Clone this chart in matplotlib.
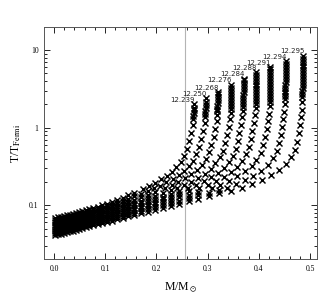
import matplotlib
matplotlib.use("Agg")
from matplotlib import pyplot, ticker

# mass grid shared by the low-mass part of every sequence
mass_grid = [0.001, 0.007, 0.013, 0.019, 0.025, 0.031, 0.037, 0.043, 0.049, 0.055,
             0.062, 0.069, 0.077, 0.085, 0.094, 0.103, 0.113, 0.123, 0.134, 0.145,
             0.157, 0.170, 0.183, 0.197, 0.212, 0.228, 0.245, 0.263, 0.282, 0.302,
             0.323, 0.345]

# T/T_Fermi on the mass grid (low-mass part), one list per sequence
low_T = [
    [.0683, .0696, .0710, .0724, .0740, .0756, .0774, .0793, .0812, .0833, .0859, .0887,
     .0921, .0958, .1003, .1052, .1112, .1178, .1259, .1349, .1459],
    [.0641, .0654, .0667, .0681, .0695, .0711, .0727, .0744, .0762, .0781, .0804, .0829,
     .0859, .0891, .0930, .0972, .1022, .1077, .1143, .1216, .1304, .1410, .1530],
    [.0602, .0614, .0627, .0640, .0654, .0668, .0683, .0699, .0716, .0733, .0754, .0776,
     .0803, .0831, .0865, .0901, .0945, .0991, .1047, .1107, .1179, .1265, .1360, .1475],
    [.0565, .0577, .0589, .0602, .0615, .0628, .0642, .0657, .0672, .0688, .0707, .0727,
     .0751, .0777, .0807, .0839, .0876, .0917, .0964, .1016, .1076, .1147, .1225, .1317,
     .1426, .1556],
    [.0530, .0542, .0554, .0566, .0578, .0591, .0605, .0618, .0633, .0648, .0666, .0684,
     .0707, .0730, .0758, .0787, .0821, .0857, .0899, .0944, .0997, .1059, .1125, .1203,
     .1295, .1403, .1530],
    [.0498, .0509, .0520, .0532, .0544, .0557, .0569, .0583, .0596, .0610, .0627, .0645,
     .0665, .0687, .0713, .0739, .0771, .0804, .0842, .0882, .0929, .0984, .1042, .1110,
     .1189, .1280, .1388, .1512],
    [.0467, .0478, .0489, .0500, .0512, .0524, .0536, .0548, .0561, .0574, .0590, .0607,
     .0626, .0647, .0670, .0695, .0724, .0754, .0788, .0825, .0867, .0916, .0967, .1027,
     .1095, .1174, .1265, .1370, .1492],
    [.0439, .0449, .0459, .0470, .0481, .0492, .0504, .0515, .0527, .0540, .0555, .0570,
     .0588, .0607, .0628, .0651, .0677, .0704, .0736, .0769, .0806, .0849, .0895, .0947,
     .1006, .1073, .1151, .1239, .1340, .1456, .1590],
    [.0412, .0421, .0431, .0441, .0452, .0462, .0473, .0484, .0495, .0507, .0521, .0535,
     .0552, .0569, .0589, .0610, .0634, .0658, .0687, .0717, .0750, .0789, .0830, .0875,
     .0927, .0986, .1053, .1128, .1214, .1311, .1421, .1547],
]

# upper (rising) part of each sequence: mass and T/T_Fermi
up_M = [
    [.174, .186, .197, .209, .220, .230, .239, .247, .254, .259, .264, .268, .271,
     .272, .272, .273, .273, .273, .273],
    [.195, .207, .219, .232, .244, .254, .263, .271, .278, .283, .287, .291, .294,
     .295, .295, .295, .296, .296, .296, .296],
    [.216, .230, .243, .256, .268, .279, .288, .297, .303, .307, .312, .315, .318,
     .319, .319, .319, .319, .320, .320, .320, .320, .320],
    [.240, .254, .268, .282, .295, .306, .315, .324, .330, .334, .338, .341, .344,
     .345, .345, .345, .345, .345, .346, .346, .346, .346, .346],
    [.261, .277, .292, .306, .320, .332, .341, .349, .355, .359, .362, .365, .368,
     .369, .369, .369, .369, .369, .369, .370, .370, .370, .370, .370, .370],
    [.284, .300, .316, .331, .345, .358, .367, .375, .380, .384, .387, .390, .392,
     .394, .394, .394, .394, .394, .394, .395, .395, .395, .395, .395, .395, .395],
    [.308, .325, .342, .358, .373, .386, .395, .404, .408, .412, .415, .417, .419,
     .421, .421, .421, .421, .421, .421, .421, .422, .422, .422, .422, .422, .422, .422],
    [.337, .355, .373, .389, .404, .418, .427, .436, .440, .443, .446, .448, .450,
     .452, .452, .452, .452, .452, .452, .452, .453, .453, .453, .453, .453, .453, .453,
     .453],
    [.368, .387, .406, .423, .439, .453, .462, .471, .475, .478, .480, .482, .484,
     .485, .485, .485, .485, .486, .486, .486, .486, .486, .486, .487, .487, .487, .487,
     .487, .487],
]
up_T = [
    [.164, .178, .196, .216, .240, .272, .310, .360, .430, .530, .670, .859, 1.089,
     1.28, 1.40, 1.53, 1.67, 1.82, 2.00],
    [.165, .179, .198, .219, .245, .280, .322, .377, .453, .562, .712, .910, 1.151,
     1.366, 1.507, 1.644, 1.795, 1.959, 2.138, 2.40],
    [.165, .180, .200, .223, .251, .288, .334, .394, .479, .596, .757, .964, 1.216,
     1.459, 1.618, 1.766, 1.928, 2.104, 2.296, 2.506, 2.735, 2.90],
    [.166, .181, .202, .226, .256, .296, .347, .413, .505, .632, .804, 1.021, 1.287,
     1.560, 1.740, 1.899, 2.073, 2.262, 2.469, 2.695, 2.941, 3.210, 3.60],
    [.166, .182, .204, .230, .262, .304, .361, .433, .533, .671, .854, 1.081, 1.360,
     1.665, 1.868, 2.039, 2.226, 2.429, 2.652, 2.894, 3.159, 3.447, 3.763, 4.107, 4.30],
    [.167, .183, .206, .234, .267, .313, .375, .453, .562, .711, .908, 1.146, 1.439,
     1.780, 2.009, 2.193, 2.393, 2.612, 2.851, 3.112, 3.396, 3.707, 4.046, 4.416, 4.819,
     5.20],
    [.168, .185, .208, .238, .273, .321, .389, .474, .593, .755, .964, 1.213, 1.521,
     1.901, 2.158, 2.355, 2.570, 2.805, 3.062, 3.342, 3.648, 3.981, 4.345, 4.742, 5.176,
     5.649, 6.00],
    [.168, .186, .210, .242, .279, .330, .404, .497, .627, .800, 1.025, 1.285, 1.607,
     2.030, 2.317, 2.529, 2.761, 3.013, 3.289, 3.589, 3.917, 4.276, 4.667, 5.093, 5.559,
     6.067, 6.622, 7.20],
    [.169, .187, .212, .246, .285, .340, .420, .520, .661, .849, 1.089, 1.361, 1.698,
     2.168, 2.489, 2.716, 2.965, 3.236, 3.532, 3.855, 4.207, 4.592, 5.012, 5.470, 5.970,
     6.516, 7.112, 7.762, 8.50],
]

seq_labels = ["12.239", "12.250", "12.268", "12.276", "12.284",
              "12.288", "12.291", "12.294", "12.295"]
line_mass = 0.255

pyplot.rcParams["font.family"] = ["Liberation Serif", "DejaVu Serif"]
pyplot.rcParams["mathtext.fontset"] = "stix"

fig = pyplot.figure(figsize=(3.31, 3.01), dpi=100)
ax = fig.add_axes([0.133, 0.1395, 0.825, 0.7705])

ax.axvline(line_mass, color="#b4b4b4", lw=0.8, zorder=1)

for i in range(len(low_T)):
    ax.plot(mass_grid[:len(low_T[i])], low_T[i], linestyle="none", marker="x",
            ms=3.7, mew=1.05, color="black", zorder=2)
    ax.plot(up_M[i], up_T[i], linestyle="none", marker="x",
            ms=3.7, mew=1.05, color="black", zorder=2)
    ax.annotate(seq_labels[i], (up_M[i][-1], up_T[i][-1]), xytext=(0.5, 0.8),
                textcoords="offset points", ha="right", va="bottom",
                fontsize=5, family="DejaVu Sans", color="#222222")

ax.set_yscale("log")
ax.set_xlim(-0.0195, 0.5137)
ax.set_ylim(0.0203, 19.8)

ax.xaxis.set_major_locator(ticker.MultipleLocator(0.1))
ax.xaxis.set_minor_locator(ticker.MultipleLocator(0.02))
ax.xaxis.set_major_formatter(ticker.FormatStrFormatter("%.1f"))
ax.set_yticks([0.1, 1, 10])
ax.set_yticklabels(["0.1", "1", "10"])
ax.yaxis.set_minor_locator(ticker.LogLocator(subs=range(2, 10)))
ax.yaxis.set_minor_formatter(ticker.NullFormatter())

ax.tick_params(which="both", direction="in", top=True, right=True,
               labelsize=5.5, width=0.6, pad=4)
ax.tick_params(which="major", length=4)
ax.tick_params(which="minor", length=2.2)
for s in ax.spines.values():
    s.set_linewidth(0.7)
    s.set_color("#555555")

ax.set_xlabel(r"M/M$_\odot$", fontsize=8.5, labelpad=6)
ax.set_ylabel(r"T/T$_{\rm Fermi}$", fontsize=8.5, labelpad=4)

fig.savefig("out.png", dpi=100)
